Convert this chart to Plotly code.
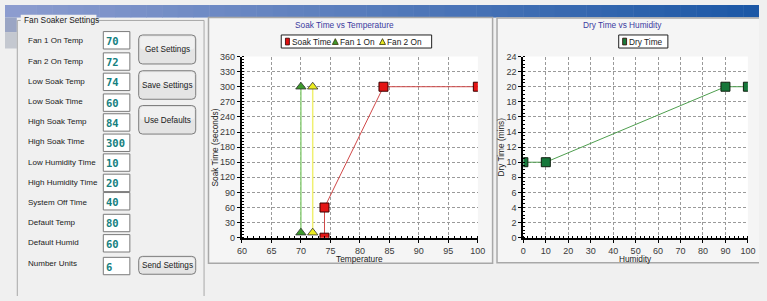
import plotly.graph_objects as go

# ---------------- data ----------------
soak_temp = [74, 74, 84, 100]
soak_time = [0, 60, 300, 300]
fan1_temp = [70, 70]
fan1_time = [10, 300]
fan2_temp = [72, 72]
fan2_time = [10, 300]
humidity = [0, 10, 90, 100]
dry_time = [10, 10, 20, 20]

form_labels = ["Fan 1 On Temp", "Fan 2 On Temp", "Low Soak Temp", "Low Soak Time",
               "High Soak Temp", "High Soak Time", "Low Humidity Time", "High Humidity Time",
               "System Off Time", "Default Temp", "Default Humid", "Number Units"]
form_values = ["70", "72", "74", "60", "84", "300", "10", "20", "40", "80", "60", "6"]
button_labels = ["Get Settings", "Save Settings", "Use Defaults", "Send Settings"]

# ---------------- layout helpers ----------------
W, H = 767, 301
FONT = "Liberation Sans, Arial, sans-serif"
TS = 8.3  # general text size


def X(px):
    return min(max(px, 0), W) / W


def Y(py):
    return 1 - min(max(py, 0), H) / H


shapes = []
annotations = []


def rect(x0, y0, x1, y1, fill=None, line=None, lw=1, layer="below"):
    shapes.append(dict(type="rect", xref="paper", yref="paper",
                       x0=X(x0), x1=X(x1), y0=Y(y1), y1=Y(y0),
                       fillcolor=fill if fill else "rgba(0,0,0,0)",
                       line=dict(color=line if line else "rgba(0,0,0,0)", width=lw if line else 0),
                       layer=layer))


def polyline(pts, color, lw=1, layer="below"):
    p = "M " + " L ".join(f"{X(a)},{Y(b)}" for a, b in pts)
    shapes.append(dict(type="path", xref="paper", yref="paper", path=p,
                       line=dict(color=color, width=lw), layer=layer))


def rrect(x0, y0, x1, y1, r, fill, line):
    p = (f"M {X(x0 + r)},{Y(y0)} L {X(x1 - r)},{Y(y0)} Q {X(x1)},{Y(y0)} {X(x1)},{Y(y0 + r)} "
         f"L {X(x1)},{Y(y1 - r)} Q {X(x1)},{Y(y1)} {X(x1 - r)},{Y(y1)} "
         f"L {X(x0 + r)},{Y(y1)} Q {X(x0)},{Y(y1)} {X(x0)},{Y(y1 - r)} "
         f"L {X(x0)},{Y(y0 + r)} Q {X(x0)},{Y(y0)} {X(x0 + r)},{Y(y0)} Z")
    shapes.append(dict(type="path", xref="paper", yref="paper", path=p,
                       fillcolor=fill, line=dict(color=line, width=1), layer="below"))


def text(x, y, s, size=TS, color="#1a1a1a", anchor="left", family=FONT, angle=0, bold=False):
    if bold:
        s = f"<b>{s}</b>"
    annotations.append(dict(xref="paper", yref="paper", x=X(x), y=Y(y), text=s,
                            showarrow=False, xanchor=anchor, yanchor="middle",
                            font=dict(size=size, color=color, family=family),
                            textangle=angle, borderpad=0))


def hexmix(c1, c2, t):
    a = [int(c1[i:i + 2], 16) for i in (1, 3, 5)]
    b = [int(c2[i:i + 2], 16) for i in (1, 3, 5)]
    return "#" + "".join(f"{round(a[i] + (b[i] - a[i]) * t):02x}" for i in range(3))


# title bar gradient
N = 48
for i in range(N):
    x0 = W * i / N
    x1 = min(W * (i + 1) / N + 0.5, W)
    rect(x0, 0, x1, 13, fill=hexmix("#8c9ccf", "#1c58a6", i / (N - 1)))
rect(0, 13, 12, 28, fill="#9aa5c4")
rect(0, 28, 12, 45, fill="#c4c8d0")

# group box (open at the bottom, runs off the picture)
polyline([(12.5, H), (12.5, 16), (202.5, 16), (202.5, H)], "#a8a8a8")
rect(16, 10, 93, 22, fill="#f0f0f0")
text(18, 16, "Fan Soaker Settings")

label_y = [36.7, 58, 79, 99.5, 120.5, 141.5, 162.5, 183.5, 204, 225, 246, 267.7]
box_top = [27.5, 49.5, 70.5, 92, 112.5, 133.5, 154, 175, 194, 216.5, 237.5, 261]
for lab, val, ly, bt in zip(form_labels, form_values, label_y, box_top):
    text(22, ly, lab, size=8)
    rect(100, bt, 127, bt + 18, fill="white", line="#7a7a7a", lw=1)
    text(102, bt + 9.5, val, size=10.5, color="#147f80", family="DejaVu Sans Mono, monospace", bold=True)

btn_boxes = [(136, 31, 194, 61), (136, 68, 194, 97.5), (136, 104, 194, 133.5), (136, 260, 194, 278.5)]
for lab, (x0, y0, x1, y1) in zip(button_labels, btn_boxes):
    rrect(x0, y0, x1, y1, 4, "#e4e4e4", "#7c7c7c")
    rrect(x0 + 1.5, y0 + 1.5, x1 - 1.5, (y0 + y1) / 2, 3, "#f0f0f0", "rgba(0,0,0,0)")
    text((x0 + x1) / 2, (y0 + y1) / 2 + 0.5, lab, size=8.2, anchor="center")

# chart panes
rect(207, 13, 496, 267, fill="#f5f5f5", line="#a8a8a8", lw=1.5)
rect(500, 13, W, 267, fill="#f5f5f5")
polyline([(W, 13.5), (500.5, 13.5), (500.5, 266.5), (W, 266.5)], "#a8a8a8", lw=1.5)

# plot areas (pixels)
P1 = (241, 53.3, 481, 240.7)
P2 = (527.3, 53.3, 755.7, 240.7)
rect(*P1, fill="white")
rect(*P2, fill="white")

# titles
TITLE_C = "#3b3ba0"
text(345, 21, "Soak Time vs Temperature", color=TITLE_C, anchor="center")
text(628, 21, "Dry Time vs Humidity", color=TITLE_C, anchor="center")

# axis titles
text(361, 262.5, "Temperature", anchor="center")
text(641, 262.5, "Humidity", anchor="center")
text(214, 147, "Soak Time (seconds)", anchor="center", angle=-90)
text(505, 147, "Dry Time (mins)", anchor="center", angle=-90)

# manual legends
rect(281, 31, 434, 44.5, fill="white", line="#202020", lw=1, layer="above")
rect(624.3, 31, 674.3, 44.5, fill="white", line="#202020", lw=1, layer="above")
LY = 37.8


def leg_square(cx, fill):
    rect(cx - 2, LY - 3.5, cx + 2, LY + 3.5, fill=fill, line="#300000", lw=0.8, layer="above")


def leg_tri(cx, fill):
    p = f"M {X(cx - 3)},{Y(LY + 3)} L {X(cx + 3)},{Y(LY + 3)} L {X(cx)},{Y(LY - 3)} Z"
    shapes.append(dict(type="path", xref="paper", yref="paper", path=p, fillcolor=fill,
                       line=dict(color="#303000", width=0.8), layer="above"))


leg_square(287.3, "#e01010")
text(290.5, LY, "Soak Time")
leg_tri(336, "#3d9a2c")
text(339.5, LY, "Fan 1 On")
leg_tri(384, "#e8e820")
text(388, LY, "Fan 2 On")
leg_square(630.3, "#1a7a3a")
text(633.5, LY, "Dry Time")

# ---------------- figure ----------------
fig = go.Figure()
fig.add_trace(go.Scatter(x=fan1_temp, y=fan1_time, mode="lines+markers", xaxis="x", yaxis="y",
                         line=dict(color="#8fcf7c", width=1.5),
                         marker=dict(symbol="triangle-up", size=9, color="#3d9a2c",
                                     line=dict(color="#303030", width=0.8))))
fig.add_trace(go.Scatter(x=fan2_temp, y=fan2_time, mode="lines+markers", xaxis="x", yaxis="y",
                         line=dict(color="#f0f070", width=1.5),
                         marker=dict(symbol="triangle-up", size=9, color="#eded20",
                                     line=dict(color="#303030", width=0.8))))
fig.add_trace(go.Scatter(x=soak_temp, y=soak_time, mode="lines+markers", xaxis="x", yaxis="y",
                         line=dict(color="#d04848", width=1),
                         marker=dict(symbol="square", size=9, color="#e41414",
                                     line=dict(color="#3a0000", width=1))))
fig.add_trace(go.Scatter(x=humidity, y=dry_time, mode="lines+markers", xaxis="x2", yaxis="y2",
                         line=dict(color="#4e9e4e", width=1),
                         marker=dict(symbol="square", size=9, color="#16773a",
                                     line=dict(color="#102010", width=1))))


def axis(domain, rng, dtick, minor_dtick, anchor):
    return dict(domain=domain, range=rng, dtick=dtick, tick0=rng[0], anchor=anchor,
                showgrid=True, gridcolor="#9a9a9a", gridwidth=1, griddash="3px,2px",
                showline=True, linecolor="black", linewidth=2, zeroline=False,
                ticks="outside", ticklen=3, tickcolor="black", tickwidth=1,
                tickfont=dict(size=9, color="#3a3a3a", family=FONT),
                minor=dict(ticks="inside", ticklen=2, dtick=minor_dtick, tickcolor="black", showgrid=False),
                fixedrange=True)


fig.update_layout(
    width=W, height=H, autosize=False,
    margin=dict(l=0, r=0, t=0, b=0),
    paper_bgcolor="#f0f0f0", plot_bgcolor="rgba(0,0,0,0)",
    showlegend=False,
    xaxis=axis([X(P1[0]), X(P1[2])], [60, 100], 5, 1, "y"),
    yaxis=axis([Y(P1[3]), Y(P1[1])], [0, 360], 30, 6, "x"),
    xaxis2=axis([X(P2[0]), X(P2[2])], [0, 100], 10, 2, "y2"),
    yaxis2=axis([Y(P2[3]), Y(P2[1])], [0, 24], 2, 0.5, "x2"),
    shapes=shapes, annotations=annotations,
    font=dict(family=FONT),
)

page_fix = """
document.documentElement.style.margin='0';document.documentElement.style.padding='0';
document.body.style.margin='0';document.body.style.padding='0';document.body.style.overflow='hidden';
document.documentElement.style.background='#f0f0f0';document.body.style.background='#f0f0f0';
"""
fig.write_html("out.html", config={"displayModeBar": False}, post_script=page_fix)
